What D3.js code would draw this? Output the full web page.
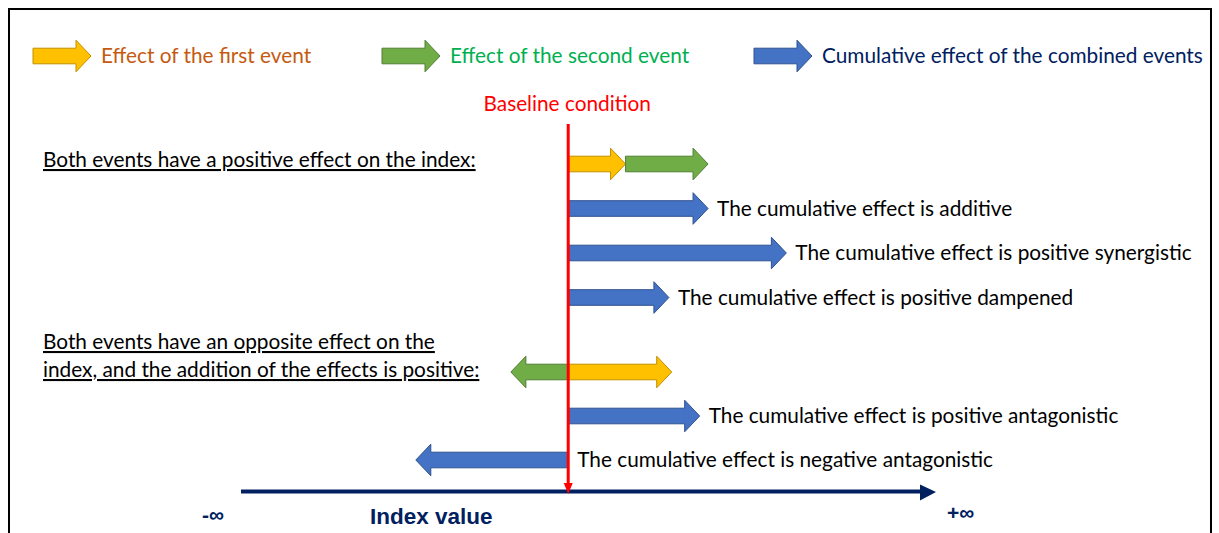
<!DOCTYPE html>
<html>
<head>
<meta charset="utf-8">
<script src="https://cdn.jsdelivr.net/npm/d3@7/dist/d3.min.js"></script>
<style>
  body { margin: 0; background: #fff; }
  text { font-family: Lato, "Open Sans", sans-serif; }
  .bold { font-family: "Liberation Sans", Arial, sans-serif; font-weight: bold; }
</style>
</head>
<body>
<svg width="1219" height="533"></svg>
<script>
// legend
const legendLabels = ['Effect of the first event', 'Effect of the second event', 'Cumulative effect of the combined events'];
const legendKeys = ['first', 'second', 'combined'];

// two scenarios: effect of each event (index units, baseline = 0)
const sectionLabels = [
  ['Both events have a positive effect on the index:'],
  ['Both events have an opposite effect on the', 'index, and the addition of the effects is positive:']
];
const firstEffect = [4.1, 7.4];
const secondEffect = [5.9, -4.1];
const stacked = [true, false];

// cumulative outcomes
const cumulativeScenario = [0, 0, 0, 1, 1];
const cumulativeValues = [10.0, 15.6, 7.2, 9.4, -10.9];
const cumulativeLabels = [
  'The cumulative effect is additive',
  'The cumulative effect is positive synergistic',
  'The cumulative effect is positive dampened',
  'The cumulative effect is positive antagonistic',
  'The cumulative effect is negative antagonistic'
];

const axisLabels = ['-\u221e', '+\u221e'];
const axisTitle = 'Index value';
const baselineLabel = 'Baseline condition';

const svg = d3.select('svg');
const width = +svg.attr('width');
const height = +svg.attr('height');

const fontSize = 20.8;
const fill = { first: '#FFC000', second: '#70AD47', combined: '#4472C4' };
const stroke = { first: '#BF9000', second: '#507E32', combined: '#2F528F' };
const textColor = { first: '#C55A11', second: '#00B050', combined: '#002060' };

const x = d3.scaleLinear().domain([-23.4, 26.3]).range([241, 936]);

// row positions inside each scenario block
const blockY = [
  d3.scalePoint().domain(d3.range(4)).range([164, 297.5]),
  d3.scalePoint().domain(d3.range(3)).range([372, 460])
];

const arrowPath = (x0, x1, y) => {
  const s = 7.8, h = 15.8, hl = 15;
  const d = x1 >= x0 ? 1 : -1;
  const xh = x1 - d * hl;
  return `M${x0},${y - s}L${xh},${y - s}L${xh},${y - h}L${x1},${y}L${xh},${y + h}L${xh},${y + s}L${x0},${y + s}Z`;
};

const drawArrow = (g, x0, x1, y, key) => g.append('path')
  .attr('d', arrowPath(x0, x1, y))
  .attr('fill', fill[key])
  .attr('stroke', stroke[key])
  .attr('stroke-width', 1);

// frame
svg.append('rect')
  .attr('x', 9).attr('y', 9)
  .attr('width', 1202).attr('height', 560)
  .attr('fill', 'none')
  .attr('stroke', '#000')
  .attr('stroke-width', 2);

// legend
const legendX = [33, 382, 754];
const legend = svg.append('g');
legendKeys.forEach((k, i) => {
  drawArrow(legend, legendX[i], legendX[i] + 58, 56, k);
  legend.append('text')
    .attr('x', legendX[i] + 68)
    .attr('y', 63)
    .attr('font-size', fontSize)
    .attr('fill', textColor[k])
    .text(legendLabels[i]);
});

const g = svg.append('g');

// section labels and event arrows
sectionLabels.forEach((lines, i) => {
  const y0 = blockY[i](0);
  lines.forEach((line, j) => {
    g.append('text')
      .attr('x', 43)
      .attr('y', i === 0 ? y0 + 3 : 349 + j * 28)
      .attr('font-size', fontSize)
      .attr('fill', '#000')
      .attr('text-decoration', 'underline')
      .text(line);
  });
  if (stacked[i]) {
    drawArrow(g, x(0), x(firstEffect[i]), y0, 'first');
    drawArrow(g, x(firstEffect[i]), x(firstEffect[i] + secondEffect[i]), y0, 'second');
  } else {
    drawArrow(g, x(0), x(secondEffect[i]), y0, 'second');
    drawArrow(g, x(0), x(firstEffect[i]), y0, 'first');
  }
});

// cumulative arrows
const slotCount = [0, 0];
cumulativeValues.forEach((v, i) => {
  const sc = cumulativeScenario[i];
  slotCount[sc] += 1;
  const y = blockY[sc](slotCount[sc]);
  drawArrow(g, x(0), x(v), y, 'combined');
  g.append('text')
    .attr('x', v >= 0 ? x(v) + 9 : x(0) + 9)
    .attr('y', y + 7)
    .attr('font-size', fontSize)
    .attr('fill', '#000')
    .text(cumulativeLabels[i]);
});

// index axis
const axisY = 491.5;
const [xMin, xMax] = x.range();
g.append('line')
  .attr('x1', xMin).attr('x2', xMax - 15)
  .attr('y1', axisY).attr('y2', axisY)
  .attr('stroke', '#002060')
  .attr('stroke-width', 4);
g.append('path')
  .attr('d', `M${xMax - 16},${axisY - 7}L${xMax},${axisY + 0.5}L${xMax - 16},${axisY + 9}Z`)
  .attr('fill', '#002060');

g.append('text').attr('class', 'bold')
  .attr('x', 202).attr('y', 522)
  .attr('font-size', 21).attr('fill', '#002060')
  .text(axisLabels[0]);
g.append('text').attr('class', 'bold')
  .attr('x', 947).attr('y', 520)
  .attr('font-size', 21).attr('fill', '#002060')
  .text(axisLabels[1]);
g.append('text').attr('class', 'bold')
  .attr('x', 370).attr('y', 524)
  .attr('font-size', 22.5).attr('fill', '#002060')
  .text(axisTitle);

// baseline
const bx = x(0);
g.append('text')
  .attr('x', bx - 1).attr('y', 111)
  .attr('text-anchor', 'middle')
  .attr('font-size', fontSize)
  .attr('fill', '#FF0000')
  .text(baselineLabel);
g.append('line')
  .attr('x1', bx).attr('x2', bx)
  .attr('y1', 124).attr('y2', 486)
  .attr('stroke', '#FF0000')
  .attr('stroke-width', 3);
g.append('path')
  .attr('d', `M${bx - 4.5},${483}L${bx},${494}L${bx + 4.5},${483}Z`)
  .attr('fill', '#FF0000');
</script>
</body>
</html>
